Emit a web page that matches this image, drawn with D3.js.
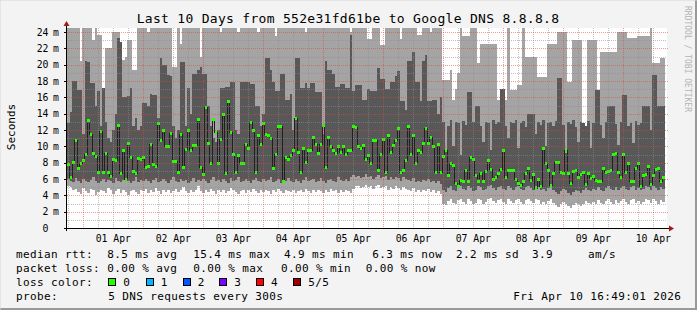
<!DOCTYPE html>
<html>
<head>
<meta charset="utf-8">
<script src="https://cdn.jsdelivr.net/npm/d3@7"></script>
<style>
  body { margin: 0; background: #f3f3f3; }
  text { font-family: "DejaVu Sans Mono", monospace; fill: #000; }
</style>
</head>
<body>
<div id="target"></div>
<script>
// one row per hour, starting Mar 31 ~17:28
const median = [
  7.8,6.2,8.1,10.8,7.4,8.0,8.3,9.1,13.2,11.5,9.2,8.8,6.9,11.9,6.9,9.2,6.9,6.4,8.4,8.3,12.6,6.7,9.5,6.0,10.4,8.7,7.0,6.7,8.6,8.4,
  8.7,7.5,7.6,10.3,7.8,7.6,12.9,10.8,12.0,10.1,10.0,11.6,8.2,8.2,6.9,11.5,7.5,9.7,12.0,9.5,10.2,10.2,13.4,7.5,6.6,14.8,10.4,8.0,13.4,11.8,
  7.9,10.9,13.9,6.7,15.5,11.8,9.1,6.9,8.9,8.0,7.9,10.3,9.8,13.0,12.0,6.9,11.4,10.3,12.8,11.5,11.4,11.0,7.4,9.1,12.5,12.5,5.8,8.7,8.5,8.9,
  9.6,13.5,9.3,6.9,9.8,8.1,9.6,9.6,11.2,10.3,9.2,10.3,12.6,7.5,11.1,10.0,9.5,9.2,10.0,9.3,10.0,9.1,9.6,9.5,12.5,12.4,10.0,9.8,10.2,8.4,
  9.0,7.9,10.8,10.8,7.1,9.1,10.9,6.9,11.4,9.3,10.2,10.8,12.2,6.9,7.1,8.3,12.5,9.1,11.4,7.9,9.6,9.3,10.4,12.2,10.4,11.2,10.0,6.9,10.3,6.9,
  8.8,9.6,6.5,7.9,7.7,5.5,5.1,5.9,5.7,7.1,5.7,8.7,8.5,6.5,5.7,6.7,5.8,7.0,8.3,7.2,6.0,6.2,6.7,7.2,9.6,6.2,7.1,7.1,7.1,6.0,
  5.5,5.3,5.7,6.7,7.3,5.9,6.6,4.9,6.0,5.1,9.8,7.9,7.1,5.3,6.7,8.1,8.1,6.9,6.7,9.5,6.7,5.5,7.0,7.1,6.3,6.6,6.8,5.4,6.7,6.1,
  6.4,5.9,5.7,5.8,7.4,6.9,7.0,7.1,9.1,9.2,6.9,6.2,9.1,6.8,7.9,5.7,5.8,7.3,7.9,5.1,6.5,6.6,7.6,5.4,6.5,7.2,7.3,5.7,6.3
];
const pingMin = [
  5.2,5.0,4.6,4.8,4.4,4.2,4.9,4.5,4.3,4.8,4.6,4.1,4.4,4.7,4.5,4.3,4.9,4.6,4.2,4.5,4.8,4.3,4.6,4.4,4.0,4.5,4.7,4.4,4.2,4.6,
  4.5,4.8,4.3,4.6,4.4,4.9,4.5,4.2,4.7,4.4,4.6,4.3,4.5,4.8,4.4,4.6,5.0,4.5,4.3,4.7,4.4,4.6,5.1,4.5,4.3,4.6,4.4,4.8,4.5,4.2,
  4.6,4.4,4.7,4.3,4.5,4.9,4.6,4.4,4.2,4.5,4.7,4.3,4.6,4.4,4.8,4.5,4.3,4.6,4.4,4.7,4.5,4.2,4.6,4.4,4.8,4.5,4.3,4.6,4.5,4.4,
  4.7,4.3,4.5,4.6,4.4,4.8,4.5,4.3,4.6,4.4,4.7,4.5,4.3,4.6,4.4,4.8,4.5,4.6,4.3,4.7,4.4,4.6,4.5,4.3,4.8,5.1,5.2,4.9,5.0,5.3,
  5.0,5.2,4.8,5.1,5.3,4.9,5.0,5.2,4.7,5.0,4.8,5.1,4.9,4.6,5.0,4.8,4.7,4.5,4.9,4.4,4.6,4.4,4.7,4.5,4.8,4.4,4.6,4.3,4.5,4.2,
  3.0,2.8,3.3,3.5,3.1,2.9,3.4,3.6,3.2,3.0,3.5,3.3,2.9,3.1,3.6,3.4,3.0,3.2,3.5,3.7,3.3,3.1,3.4,3.6,3.2,3.0,3.5,3.3,3.1,3.4,
  3.6,3.2,3.0,3.4,3.5,3.3,3.1,3.6,3.4,3.0,3.2,2.9,3.3,3.5,3.1,2.8,2.6,2.9,3.2,3.0,2.7,2.5,2.8,3.1,2.9,2.7,3.0,3.3,3.1,2.9,
  3.2,3.0,3.4,3.1,2.9,3.3,3.5,3.2,3.0,3.4,3.1,3.3,3.6,3.2,3.0,3.4,3.5,3.1,3.3,3.0,3.2,3.6,3.4,3.1,3.5,3.3,3.0,3.4,3.2
];
const pingLow = [
  6.0,5.8,5.6,6.1,5.7,5.5,6.0,5.8,5.6,5.9,6.2,5.7,5.5,5.8,6.0,5.6,5.9,5.7,5.5,6.1,5.8,5.6,5.9,6.0,5.7,5.5,5.8,6.2,5.6,5.9,
  5.7,6.0,5.8,5.5,5.9,6.1,5.6,5.8,6.0,5.7,5.5,5.9,6.2,5.8,5.6,6.0,5.7,5.9,5.5,5.8,6.1,5.6,5.9,5.7,6.0,5.8,5.5,5.9,6.2,5.7,
  5.9,5.6,6.0,5.8,5.5,6.1,5.7,5.9,6.2,5.6,5.8,6.0,5.7,5.5,5.9,6.1,5.8,5.6,6.0,5.7,5.9,6.2,5.6,5.8,6.0,5.5,5.9,5.7,6.1,5.8,
  5.6,6.0,5.8,5.5,5.9,6.2,5.7,5.9,6.0,5.6,5.8,6.1,5.7,5.5,5.9,6.0,5.8,5.6,6.2,5.9,5.7,6.0,5.8,6.3,6.5,6.2,6.4,6.1,6.3,6.6,
  6.2,6.4,6.0,6.3,6.5,6.1,6.2,6.4,5.9,6.2,6.0,6.3,6.1,5.8,6.2,6.0,5.9,5.7,6.1,5.6,5.8,5.6,5.9,5.7,6.0,5.6,5.8,5.5,5.7,5.4,
  4.6,4.4,4.9,5.1,4.7,4.5,5.0,5.2,4.8,4.6,5.1,4.9,4.5,4.7,5.2,5.0,4.6,4.8,5.1,5.3,4.9,4.7,5.0,5.2,4.8,4.6,5.1,4.9,4.7,5.0,
  5.2,4.8,4.6,5.0,5.1,4.9,4.7,5.2,5.0,4.6,4.8,4.5,4.9,5.1,4.7,4.4,4.2,4.5,4.8,4.6,4.3,4.1,4.4,4.7,4.5,4.3,4.6,4.9,4.7,4.5,
  4.8,4.6,5.0,4.7,4.5,4.9,5.1,4.8,4.6,5.0,4.7,4.9,5.2,4.8,4.6,5.0,5.1,4.7,4.9,4.6,4.8,5.2,5.0,4.7,5.1,4.9,4.6,5.0,4.8
];
const pingHigh = [
  12.8,14.2,18.0,18.0,16.9,16.9,11.5,20.4,20.3,17.7,17.7,15.0,16.8,12.5,17.1,13.0,11.0,10.5,12.0,14.0,23.3,22.8,16.0,16.0,16.2,17.2,12.5,13.5,12.0,12.5,
  15.3,15.3,15.0,16.4,16.3,16.3,13.5,20.8,19.9,19.9,18.7,18.6,12.5,11.0,12.0,20.3,20.3,12.5,17.2,14.0,18.9,18.9,19.3,19.7,18.9,18.9,15.0,12.5,11.0,10.5,
  12.0,17.1,17.1,17.3,17.3,17.9,17.9,12.0,11.5,17.9,17.9,17.9,17.9,17.6,17.6,15.0,15.0,12.5,14.0,20.8,20.8,19.3,17.9,16.8,16.8,18.9,18.9,15.7,15.7,16.4,
  12.0,20.8,20.8,17.2,17.2,17.7,17.1,17.7,17.7,16.6,16.6,16.6,11.5,20.4,19.3,19.3,18.9,17.3,17.3,17.6,17.6,17.1,17.1,23.6,16.8,17.5,17.5,17.5,15.7,15.7,
  17.0,16.8,16.8,16.8,19.6,18.2,18.2,17.0,17.0,17.9,17.9,18.6,19.2,15.5,15.5,14.5,20.5,20.5,21.5,17.9,17.9,15.5,20.5,21.2,15.5,15.5,15.7,15.7,14.0,16.0,
  13.0,9.5,12.5,13.2,10.0,13.0,12.8,9.0,13.1,12.6,16.7,16.7,13.0,14.9,14.9,12.5,10.5,13.0,12.8,9.5,13.2,12.7,13.0,17.0,17.0,12.5,11.0,13.0,12.8,13.2,
  9.8,12.9,13.1,12.4,14.0,14.0,14.0,11.5,13.0,12.6,13.2,10.0,12.8,13.0,12.5,13.1,18.4,18.4,12.6,9.2,13.0,12.7,13.2,12.4,10.5,13.0,12.8,12.5,13.1,9.8,
  12.9,16.9,16.9,12.6,11.0,13.0,14.9,14.9,14.9,12.7,10.2,13.0,16.3,16.3,12.5,12.9,10.4,13.1,12.6,12.8,15.0,15.0,15.0,12.0,18.7,18.7,15.0,15.0,15.0
];
const pingMax = [
  30,30,30,30,30,20.4,30,30,30,30,23,30,23.6,23.6,16.1,22,22,22,24,24,24,20.6,20.6,21,23,23,19.3,19.3,30,30,
  30,30,24,30,30,30,30,30,30,30,30,30,19.7,19.7,30,22.5,30,30,30,30,30,30,30,21,30,30,30,30,30,30,
  30,24,30,30,30,30,30,30,24,30,30,30,30,30,30,30,24,30,30,30,30,30,30,23.5,30,30,30,30,30,30,
  30,30,30,30,30,24,30,30,30,30,30,30,30,30,30,30,30,30,30,30,30,30,30,24,30,30,30,30,30,30,
  23.2,23.2,30,30,30,22.4,22.4,30,30,30,30,30,30,23.2,30,30,30,30,30,30,23.6,23.6,30,30,30,24,30,30,30,30,
  18.1,18.1,18.1,19.3,15.7,17,19,30,23.5,23.5,23.5,30,30,30,20.2,22.5,22.5,22.5,22.5,22.5,22.5,22.5,15.7,15.7,15.7,15.7,30,16.9,16.9,16.9,
  17.5,17.5,30,21,21,21,21,21,18.5,18.5,18.5,18.5,22.5,22.5,22.5,22.5,24,24,24,24,17.9,17.9,23,23,23,23,12,12,23,23,
  23,23,16.9,21.5,21.5,21.5,21.5,21.5,21.5,21.5,24,24,24,24,23.3,23.3,23.3,23.3,23.5,23.5,23.5,23.5,23.5,30,20.2,20.2,20.2,20.8,20.8
];
const yTicks = [0, 2, 4, 6, 8, 10, 12, 14, 16, 18, 20, 22, 24];
const dayLabels = ['01 Apr', '02 Apr', '03 Apr', '04 Apr', '05 Apr', '06 Apr', '07 Apr', '08 Apr', '09 Apr', '10 Apr'];
const lossColors = ['#26ff00', '#00b8ff', '#0059ff', '#7e00ff', '#ff0000', '#a10000'];
const lossLabels = ['0', '1', '2', '3', '4', '5/5'];

const width = 697;
const height = 310;
const plot = {left: 67, right: 667, top: 28, bottom: 228};

const svg = d3.select('#target')
  .append('svg')
  .attr('width', width)
  .attr('height', height);

svg.append('rect').attr('width', width).attr('height', height).attr('fill', '#f3f3f3');
// frame shade
svg.append('path').attr('d', `M${width - 1},0V${height - 1}H0`).attr('stroke', '#999').attr('stroke-width', 2).attr('fill', 'none');
svg.append('path').attr('d', `M0,${height}V0H${width}`).attr('stroke', '#d8d8d8').attr('stroke-width', 1).attr('fill', 'none');

const t0 = new Date(2026, 2, 31, 17, 28);
const t1 = new Date(2026, 3, 10, 17, 28);
const hour = 3600 * 1000;

const x = d3.scaleTime().domain([t0, t1]).range([plot.left, plot.right]);
const y = d3.scaleLinear().domain([0, 24.49]).range([plot.bottom, plot.top]);

const rows = median.map((m, i) => ({
  t: new Date(+t0 + i * hour),
  p1: pingMin[i], p2: pingLow[i], p4: pingHigh[i], p5: pingMax[i], m: m
}));
const last = rows[rows.length - 1];
const stepped = rows.concat([Object.assign({}, last, {t: new Date(+last.t + hour)})]);

svg.append('clipPath').attr('id', 'clip')
  .append('rect')
  .attr('x', plot.left).attr('y', plot.top)
  .attr('width', plot.right - plot.left).attr('height', plot.bottom - plot.top);

svg.append('rect')
  .attr('x', plot.left).attr('y', plot.top)
  .attr('width', plot.right - plot.left).attr('height', plot.bottom - plot.top)
  .attr('fill', '#fff');

const g = svg.append('g').attr('clip-path', 'url(#clip)');

const smoke = (lo, hi) => d3.area()
  .x((d) => x(d.t))
  .y0((d) => y(d[lo]))
  .y1((d) => y(d[hi]))
  .curve(d3.curveStepAfter);

g.append('path').datum(stepped)
  .attr('d', smoke('p1', 'p5'))
  .attr('fill', '#a4a4a4')
  .attr('shape-rendering', 'crispEdges');
g.append('path').datum(stepped)
  .attr('d', smoke('p2', 'p4'))
  .attr('fill', '#585858')
  .attr('shape-rendering', 'crispEdges');

// grid
const grid = svg.append('g').attr('shape-rendering', 'crispEdges');
const minorY = d3.range(1, 25, 2);
grid.selectAll('.hminor').data(minorY).enter().append('line')
  .attr('x1', plot.left).attr('x2', plot.right)
  .attr('y1', (d) => Math.round(y(d)) + 0.5).attr('y2', (d) => Math.round(y(d)) + 0.5)
  .attr('stroke', 'rgba(140,140,140,0.55)').attr('stroke-dasharray', '1,1');
const minorX = d3.timeHour.every(6).range(t0, t1).filter((d) => d.getHours() !== 0);
grid.selectAll('.vminor').data(minorX).enter().append('line')
  .attr('y1', plot.top).attr('y2', plot.bottom)
  .attr('x1', (d) => Math.round(x(d)) + 0.5).attr('x2', (d) => Math.round(x(d)) + 0.5)
  .attr('stroke', 'rgba(140,140,140,0.55)').attr('stroke-dasharray', '1,1');
grid.selectAll('.hmajor').data(yTicks.slice(1)).enter().append('line')
  .attr('x1', plot.left).attr('x2', plot.right + 2)
  .attr('y1', (d) => Math.round(y(d)) + 0.5).attr('y2', (d) => Math.round(y(d)) + 0.5)
  .attr('stroke', 'rgba(230,70,70,0.55)').attr('stroke-dasharray', '1,1');
const days = d3.timeDay.range(t0, t1);
grid.selectAll('.vmajor').data(days).enter().append('line')
  .attr('y1', plot.top).attr('y2', plot.bottom + 2)
  .attr('x1', (d) => Math.round(x(d)) + 0.5).attr('x2', (d) => Math.round(x(d)) + 0.5)
  .attr('stroke', 'rgba(230,70,70,0.55)').attr('stroke-dasharray', '1,1');

// median line and loss colored band
g.append('path').datum(stepped)
  .attr('d', d3.line().x((d) => x(d.t)).y((d) => Math.round(y(d.m)) + 0.5).curve(d3.curveStepAfter))
  .attr('fill', 'none')
  .attr('stroke', '#202020')
  .attr('stroke-width', 1)
  .attr('shape-rendering', 'crispEdges');
g.selectAll('.med').data(rows).enter().append('rect')
  .attr('x', (d) => x(d.t))
  .attr('width', (d) => x(new Date(+d.t + hour)) - x(d.t))
  .attr('y', (d) => Math.round(y(d.m)) - 1)
  .attr('height', 3)
  .attr('fill', lossColors[0])
  .attr('shape-rendering', 'crispEdges');

// axes
const axis = svg.append('g').attr('shape-rendering', 'crispEdges');
axis.append('line').attr('x1', plot.left - 0.5).attr('x2', plot.left - 0.5)
  .attr('y1', plot.top - 3).attr('y2', plot.bottom + 3).attr('stroke', '#000');
axis.append('line').attr('x1', plot.left - 3).attr('x2', plot.right + 3)
  .attr('y1', plot.bottom + 0.5).attr('y2', plot.bottom + 0.5).attr('stroke', '#000');
axis.selectAll('.ytick').data(yTicks).enter().append('line')
  .attr('x1', plot.left - 3).attr('x2', plot.left)
  .attr('y1', (d) => Math.round(y(d)) + 0.5).attr('y2', (d) => Math.round(y(d)) + 0.5)
  .attr('stroke', '#000');
svg.append('path')
  .attr('d', `M${plot.left - 3.5},${plot.top - 2}L${plot.left - 0.5},${plot.top - 7}L${plot.left + 2.5},${plot.top - 2}Z`)
  .attr('fill', '#a01818');
svg.append('path')
  .attr('d', `M${plot.right + 2},${plot.bottom - 2.5}L${plot.right + 7},${plot.bottom + 0.5}L${plot.right + 2},${plot.bottom + 3.5}Z`)
  .attr('fill', '#a01818');

const yl = svg.append('g').style('font-size', '9.8px');
yl.selectAll('.num').data(yTicks).enter().append('text')
  .attr('x', 48.5).attr('y', (d) => y(d) + 3.5)
  .attr('text-anchor', 'end')
  .text((d) => d);
yl.selectAll('.unit').data(yTicks.slice(1)).enter().append('text')
  .attr('x', 53).attr('y', (d) => y(d) + 3.5)
  .text('m');

svg.append('g').style('font-size', '9.8px')
  .selectAll('text').data(days).enter().append('text')
  .attr('x', (d) => x(new Date(+d + 12 * hour)))
  .attr('y', 241.5)
  .attr('text-anchor', 'middle')
  .text((d, i) => dayLabels[i]);

svg.append('text')
  .attr('x', 348).attr('y', 23.3)
  .attr('text-anchor', 'middle')
  .style('font-size', '13px').style('letter-spacing', '0.3px')
  .text('Last 10 Days from 552e31fd61be to Google DNS 8.8.8.8');

svg.append('text')
  .attr('transform', 'translate(15,127) rotate(-90)')
  .attr('text-anchor', 'middle')
  .style('font-size', '11px')
  .text('Seconds');

svg.append('text')
  .attr('transform', 'translate(685,59) rotate(90)')
  .attr('text-anchor', 'middle')
  .style('font-size', '8px').style('fill', '#b4b4b4')
  .text('RRDTOOL / TOBI OETIKER');

// legend
const leg = svg.append('g').style('font-size', '11px').style('letter-spacing', '0.38px');
const legendText = [
  [16, 258, 'median rtt:'], [107.3, 258, '8.5 ms avg'], [193.3, 258, '15.4 ms max'],
  [284, 258, '4.9 ms min'], [372.3, 258, '6.3 ms now'], [456, 258, '2.2 ms sd'],
  [532, 258, '3.9'], [588, 258, 'am/s'],
  [16, 272, 'packet loss:'], [107.3, 272, '0.00 % avg'], [193.3, 272, '0.00 % max'],
  [281, 272, '0.00 % min'], [365.7, 272, '0.00 % now'],
  [16, 286, 'loss color:'],
  [16, 300, 'probe:'], [108.3, 300, '5 DNS requests every 300s'], [513.3, 300, 'Fri Apr 10 16:49:01 2026']
];
leg.selectAll('.lt').data(legendText).enter().append('text')
  .attr('x', (d) => d[0]).attr('y', (d) => d[1]).text((d) => d[2]);
const swatchX = [108.3, 145.7, 182.7, 219.3, 256, 293.3];
leg.selectAll('.sw').data(lossColors).enter().append('rect')
  .attr('x', (d, i) => Math.round(swatchX[i]) + 0.5).attr('y', 278.5)
  .attr('width', 7).attr('height', 7)
  .attr('fill', (d) => d).attr('stroke', '#000');
leg.selectAll('.sl').data(lossLabels).enter().append('text')
  .attr('x', (d, i) => swatchX[i] + 15).attr('y', 286).text((d) => d);
</script>
</body>
</html>
